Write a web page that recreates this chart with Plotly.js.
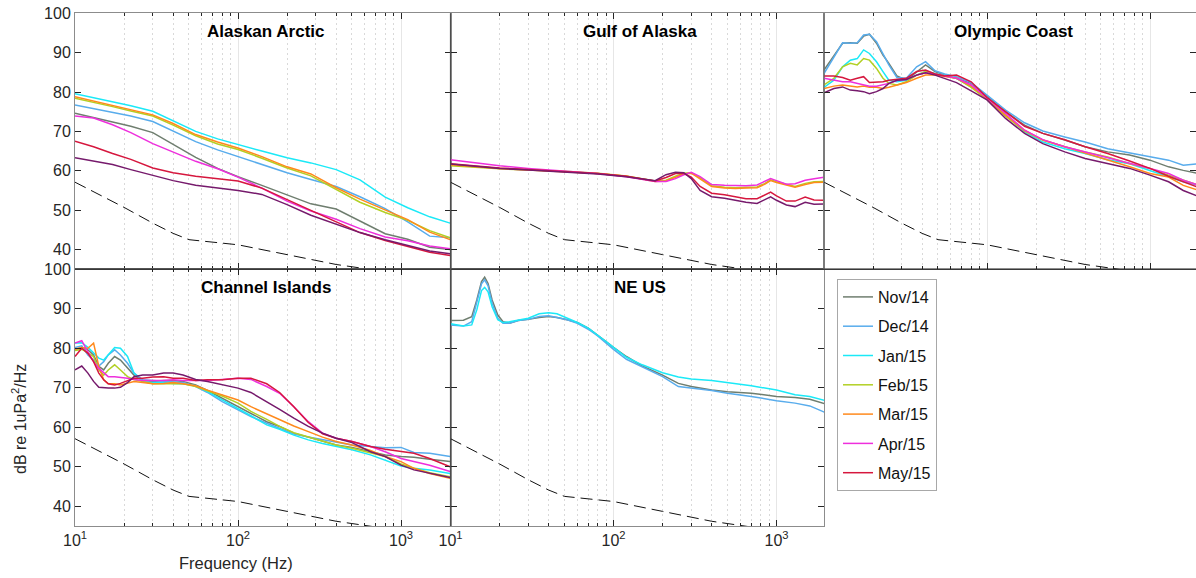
<!DOCTYPE html>
<html>
<head>
<meta charset="utf-8">
<script src="https://cdn.plot.ly/plotly-3.0.1.min.js"></script>
<style>
  html, body { margin: 0; padding: 0; background: #ffffff; }
  #chart { width: 1196px; height: 578px; }
</style>
</head>
<body>
<div id="chart"></div>
<script>
// ---------------------------------------------------------------------------
// Monthly median ambient-noise spectra (dB re 1 uPa^2/Hz) at five sites
// ---------------------------------------------------------------------------
const months = ['Nov/14', 'Dec/14', 'Jan/15', 'Feb/15', 'Mar/15', 'Apr/15', 'May/15', 'Jun/15'];
const inLegend = ['Nov/14', 'Dec/14', 'Jan/15', 'Feb/15', 'Mar/15', 'Apr/15', 'May/15'];

// Alaskan Arctic
const freqArctic = [10, 13, 17, 22, 30, 40, 55, 75, 100, 140, 200, 280, 400, 560, 800, 1100, 1500, 2000];
const arcticNov = [74.6, 73.5, 72.5, 71.3, 69.7, 66.8, 63.4, 60.6, 58.5, 56.3, 53.9, 51.6, 50.3, 47.2, 44.0, 42.6, 40.6, 40.0];
const arcticDec = [76.7, 75.8, 74.8, 73.9, 72.5, 70.0, 67.4, 65.3, 63.6, 61.6, 59.5, 57.8, 56.0, 53.4, 50.4, 47.0, 43.4, 43.0];
const arcticJan = [79.6, 78.6, 77.5, 76.5, 75.1, 72.7, 70.0, 68.1, 66.6, 65.0, 63.3, 62.0, 60.3, 57.7, 53.3, 50.6, 48.3, 46.7];
const arcticFeb = [78.4, 77.4, 76.3, 75.2, 73.9, 71.6, 68.9, 66.8, 65.4, 63.2, 60.7, 58.7, 55.3, 52.0, 49.4, 47.4, 44.8, 43.0];
const arcticMar = [78.8, 77.7, 76.6, 75.5, 74.2, 72.0, 69.2, 67.3, 65.8, 63.6, 61.0, 59.2, 55.7, 52.8, 50.1, 47.6, 44.4, 42.5];
const arcticApr = [73.9, 73.4, 71.7, 69.7, 66.9, 64.8, 62.4, 60.5, 58.4, 55.6, 52.3, 49.8, 47.7, 45.3, 43.2, 42.2, 40.9, 40.2];
const arcticMay = [67.5, 66.1, 64.4, 62.9, 60.7, 59.5, 58.6, 58.0, 57.4, 55.6, 52.7, 50.0, 47.2, 44.3, 42.3, 40.8, 39.3, 38.5];
const arcticJun = [63.3, 62.5, 61.6, 60.3, 58.9, 57.5, 56.3, 55.7, 55.0, 54.0, 51.4, 48.7, 46.4, 44.3, 42.5, 41.0, 39.6, 38.9];

// Gulf of Alaska
const freqGulf = [10, 15, 20, 30, 50, 80, 120, 180, 210, 240, 270, 300, 340, 400, 480, 560, 650, 760, 850, 920, 1000, 1150, 1300, 1500, 1700, 2000];
const gulfFeb = [61.3, 60.8, 60.5, 60.2, 59.9, 59.4, 58.7, 57.4, 57.6, 58.6, 59.4, 59.5, 58.2, 56.2, 55.8, 55.7, 55.8, 55.9, 56.8, 57.7, 57.2, 56.5, 56.0, 56.8, 57.2, 57.3];
const gulfMar = [61.5, 60.9, 60.6, 60.2, 59.8, 59.3, 58.6, 57.3, 57.4, 58.3, 59.2, 59.4, 58.0, 56.0, 55.6, 55.5, 55.6, 55.7, 56.6, 57.5, 57.0, 56.3, 55.8, 56.5, 57.0, 57.1];
const gulfApr = [62.8, 61.9, 61.3, 60.6, 59.9, 59.3, 58.5, 57.3, 57.3, 58.0, 59.0, 59.6, 58.5, 56.5, 56.3, 56.2, 56.2, 56.4, 57.4, 58.0, 57.5, 56.6, 56.7, 57.6, 58.0, 58.4];
const gulfMay = [61.8, 61.1, 60.7, 60.3, 59.8, 59.3, 58.6, 57.4, 58.3, 59.3, 59.3, 58.4, 56.0, 54.3, 53.9, 53.3, 52.9, 52.9, 53.9, 54.6, 53.6, 52.3, 52.3, 53.3, 52.6, 52.5];
const gulfJun = [61.7, 61.0, 60.6, 60.2, 59.7, 59.2, 58.5, 57.5, 59.0, 59.6, 59.5, 58.0, 55.0, 53.4, 53.0, 52.4, 52.0, 51.7, 52.7, 53.4, 52.5, 51.3, 50.9, 52.0, 51.5, 51.6];

// Olympic Coast
const freqOlympic = [10, 11.5, 13, 14.5, 16, 17.5, 19, 21, 23, 25, 28, 32, 37, 42, 48, 55, 65, 80, 100, 130, 170, 220, 300, 400, 550, 750, 1000, 1300, 1600, 2000];
const olympicNov = [85.6, 89.4, 92.4, 92.5, 92.4, 94.2, 94.7, 92.4, 89.4, 87.3, 84.1, 83.0, 85.2, 86.9, 85.2, 84.3, 83.5, 82.2, 79.0, 75.0, 71.6, 69.5, 67.8, 66.1, 64.8, 64.0, 62.7, 61.0, 60.1, 59.3];
const olympicDec = [84.7, 89.0, 92.5, 92.4, 92.5, 94.5, 94.7, 92.8, 89.8, 86.9, 83.7, 83.5, 86.4, 87.7, 85.4, 84.6, 83.9, 82.4, 79.2, 75.4, 72.2, 70.1, 68.6, 67.3, 65.6, 64.5, 63.5, 62.7, 61.4, 61.8];
const olympicJan = [81.2, 83.0, 86.4, 88.1, 88.5, 90.7, 89.8, 87.7, 85.2, 83.0, 82.6, 83.0, 84.3, 85.2, 84.7, 84.1, 83.5, 81.3, 78.4, 74.1, 69.9, 67.3, 65.6, 64.4, 62.8, 61.8, 60.1, 58.4, 57.2, 56.3];
const olympicFeb = [81.8, 83.5, 86.4, 87.3, 86.9, 88.5, 88.1, 86.0, 83.5, 82.2, 81.8, 82.6, 84.3, 85.2, 84.6, 84.1, 83.5, 81.2, 78.1, 73.9, 70.1, 67.8, 66.1, 64.8, 63.5, 61.8, 60.6, 58.9, 57.6, 56.3];
const olympicMar = [80.9, 81.5, 81.8, 81.5, 81.3, 81.5, 81.2, 81.2, 80.9, 81.2, 81.8, 82.4, 83.5, 84.3, 84.3, 83.9, 83.5, 81.5, 78.4, 74.1, 70.3, 67.8, 66.1, 64.5, 62.8, 61.0, 59.3, 58.4, 56.3, 55.0];
const olympicApr = [83.5, 83.0, 82.6, 82.6, 82.2, 81.8, 81.5, 81.5, 81.8, 82.2, 82.9, 83.2, 84.3, 84.9, 84.6, 84.1, 83.5, 81.8, 78.6, 74.6, 70.3, 67.9, 66.1, 64.8, 63.4, 62.0, 60.6, 59.3, 57.6, 56.3];
const olympicMay = [84.1, 84.1, 83.7, 83.0, 83.5, 83.9, 82.4, 82.6, 82.6, 83.0, 83.2, 83.5, 85.2, 85.6, 84.6, 84.1, 84.3, 82.6, 78.6, 75.0, 71.3, 69.5, 67.9, 66.1, 64.4, 62.5, 60.6, 58.6, 57.2, 55.7];
const olympicJun = [79.8, 80.9, 81.3, 80.5, 80.3, 80.1, 79.6, 80.1, 80.9, 82.2, 83.0, 83.2, 84.3, 84.9, 84.3, 83.5, 82.4, 80.3, 78.0, 73.3, 69.5, 66.9, 64.8, 63.1, 61.8, 60.6, 58.9, 57.2, 55.0, 53.4];

// Channel Islands
const freqChannel = [10, 11, 12, 13, 14, 15, 16, 17.5, 19, 21, 23, 26, 30, 35, 40, 46, 55, 65, 80, 100, 120, 150, 180, 220, 270, 330, 400, 500, 650, 800, 1000, 1200, 1500, 2000];
const channelNov = [79.7, 80.2, 79.6, 78.3, 75.4, 74.5, 76.2, 77.9, 77.0, 74.9, 73.2, 71.8, 71.6, 71.8, 71.8, 71.6, 70.7, 69.3, 67.3, 65.2, 63.5, 61.4, 60.2, 58.5, 57.5, 56.4, 55.5, 54.9, 53.8, 53.0, 52.6, 52.4, 51.9, 51.3];
const channelDec = [80.2, 80.6, 78.3, 77.0, 75.5, 76.6, 78.3, 79.6, 78.3, 76.2, 73.7, 72.0, 71.8, 71.6, 71.6, 71.3, 70.3, 68.8, 66.5, 64.4, 62.7, 61.0, 59.7, 58.3, 57.5, 56.8, 56.1, 55.5, 55.1, 54.8, 54.9, 53.6, 53.4, 52.6];
const channelJan = [81.3, 81.4, 80.2, 78.7, 77.5, 77.0, 78.3, 80.2, 80.0, 77.9, 73.7, 71.6, 71.3, 71.3, 71.1, 71.0, 70.5, 69.0, 66.9, 64.8, 62.9, 60.6, 59.5, 58.0, 56.8, 55.9, 55.1, 54.3, 53.0, 51.7, 50.2, 49.6, 49.2, 48.3];
const channelFeb = [79.4, 79.7, 78.9, 77.9, 74.5, 73.2, 74.5, 75.8, 74.5, 72.8, 72.1, 71.6, 71.0, 71.0, 71.0, 71.0, 70.3, 69.3, 67.9, 66.1, 64.0, 62.0, 60.2, 58.6, 57.6, 56.6, 55.5, 54.7, 53.6, 52.6, 50.7, 49.6, 48.5, 47.5];
const channelMar = [79.7, 80.2, 80.0, 81.3, 75.4, 72.0, 71.0, 71.0, 70.7, 71.1, 71.6, 71.3, 71.0, 71.1, 71.3, 71.0, 70.5, 69.4, 68.2, 66.9, 65.2, 63.4, 62.0, 60.3, 58.9, 57.5, 56.4, 55.5, 54.1, 52.6, 51.3, 49.6, 48.3, 47.1];
const channelApr = [81.3, 81.9, 79.1, 76.6, 74.9, 73.7, 72.8, 72.8, 72.7, 72.4, 72.1, 71.8, 71.8, 71.8, 72.0, 71.8, 71.8, 71.8, 72.1, 72.4, 72.1, 70.3, 68.6, 65.2, 61.4, 58.5, 57.2, 56.4, 55.1, 53.8, 52.1, 51.3, 50.4, 48.8];
const channelMay = [77.9, 80.0, 78.7, 76.6, 73.7, 72.0, 71.0, 70.7, 71.1, 71.8, 72.4, 72.4, 72.7, 72.8, 72.4, 72.4, 71.8, 72.0, 72.0, 72.4, 72.4, 71.0, 68.8, 65.2, 61.2, 58.3, 57.2, 56.4, 55.1, 54.4, 53.8, 53.4, 52.1, 50.0];
const channelJun = [74.5, 75.5, 73.7, 71.6, 70.1, 69.9, 69.9, 69.9, 70.1, 71.3, 72.8, 73.2, 73.2, 73.7, 73.7, 73.2, 72.1, 71.6, 70.7, 69.9, 68.8, 66.5, 64.5, 62.3, 60.2, 58.5, 57.2, 56.1, 53.8, 52.6, 50.4, 49.2, 48.3, 47.3];

// NE US
const freqNeus = [10, 12, 13.5, 14.5, 15.5, 16.2, 17, 18, 19.5, 21, 23, 26, 30, 35, 40, 45, 52, 60, 70, 80, 90, 100, 120, 150, 200, 250, 300, 400, 500, 700, 1000, 1300, 1600, 2000];
const neusNov = [87.0, 87.1, 88.0, 92.2, 96.9, 98.0, 96.4, 92.2, 88.4, 86.7, 86.3, 87.0, 87.3, 87.8, 88.0, 87.8, 87.2, 86.5, 85.1, 83.4, 81.7, 80.2, 77.9, 75.5, 73.2, 71.1, 70.3, 69.4, 69.0, 68.6, 67.8, 67.5, 67.1, 65.9];
const neusDec = [85.9, 85.6, 86.7, 91.4, 96.3, 97.3, 95.8, 91.4, 87.6, 86.3, 86.3, 87.0, 87.3, 88.0, 88.2, 87.8, 87.2, 86.3, 84.8, 83.1, 81.3, 79.7, 77.2, 75.2, 72.8, 70.3, 69.9, 69.3, 68.6, 67.8, 66.7, 66.1, 65.4, 63.7];
const neusJan = [86.2, 85.6, 85.9, 89.7, 94.6, 95.4, 94.3, 90.5, 87.2, 86.5, 86.7, 87.2, 87.6, 88.7, 89.0, 88.7, 87.6, 86.5, 85.1, 83.4, 81.7, 80.2, 77.7, 75.8, 73.8, 72.7, 72.2, 71.8, 71.3, 70.5, 69.4, 68.2, 67.8, 66.7];

// Reference low-noise curve drawn dashed in every panel
const floorFreq = [10, 20, 30, 40, 50, 100, 200, 400, 800, 2000];
const floorLevel = [57.1, 50.7, 46.7, 44.1, 42.5, 41.2, 38.7, 36.2, 34.4, 31.5];

// Axis ticks
const yTicks = [40, 50, 60, 70, 80, 90, 100];
const xTicks = [10, 100, 1000];
const xTickText = ['10<sup>1</sup>', '10<sup>2</sup>', '10<sup>3</sup>'];
const xMinor = [20, 30, 40, 50, 60, 70, 80, 90, 200, 300, 400, 500, 600, 700, 800, 900, 2000];

// ---------------------------------------------------------------------------
// Site table assembled from the arrays above
// ---------------------------------------------------------------------------
const sites = [
  { title: 'Alaskan Arctic', freq: freqArctic,
    levels: [arcticNov, arcticDec, arcticJan, arcticFeb, arcticMar, arcticApr, arcticMay, arcticJun] },
  { title: 'Gulf of Alaska', freq: freqGulf,
    levels: [null, null, null, gulfFeb, gulfMar, gulfApr, gulfMay, gulfJun] },
  { title: 'Olympic Coast', freq: freqOlympic,
    levels: [olympicNov, olympicDec, olympicJan, olympicFeb, olympicMar, olympicApr, olympicMay, olympicJun] },
  { title: 'Channel Islands', freq: freqChannel,
    levels: [channelNov, channelDec, channelJan, channelFeb, channelMar, channelApr, channelMay, channelJun] },
  { title: 'NE US', freq: freqNeus,
    levels: [neusNov, neusDec, neusJan, null, null, null, null, null] }
];

// ---------------------------------------------------------------------------
// Styling
// ---------------------------------------------------------------------------
const W = 1196, H = 578;
const FONT = '"Liberation Sans", Arial, Helvetica, sans-serif';
const INK = '#262626';
const monthColor = {
  'Nov/14': '#6f7e6f',
  'Dec/14': '#58acec',
  'Jan/15': '#1be9f7',
  'Feb/15': '#b2d024',
  'Mar/15': '#ff8a1c',
  'Apr/15': '#ee2fdc',
  'May/15': '#d6173e',
  'Jun/15': '#761a6c'
};

// Panel rectangles in pixels (left, right, top, bottom)
const PX_PER_DECADE = 163;
const panels = [
  { l: 75,    r: 450.5, t: 13.3,  b: 269.2 },
  { l: 450.5, r: 824,   t: 13.3,  b: 269.2 },
  { l: 824,   r: 1196,  t: 13.3,  b: 269.2 },
  { l: 75,    r: 450.5, t: 269.2, b: 526 },
  { l: 450.5, r: 824,   t: 269.2, b: 526 }
];
const px = x => x / W;
const py = y => 1 - y / H;

const layout = {
  width: W, height: H,
  margin: { l: 0, r: 0, t: 0, b: 0 },
  paper_bgcolor: '#ffffff',
  plot_bgcolor: '#ffffff',
  font: { family: FONT, size: 16, color: INK },
  showlegend: true,
  legend: {
    x: px(837), y: py(279), xanchor: 'left', yanchor: 'top',
    bgcolor: '#ffffff', bordercolor: '#a8a8a8', borderwidth: 1,
    font: { family: FONT, size: 16, color: '#111111' },
    traceorder: 'grouped', tracegroupgap: 5.5, itemwidth: 30
  },
  annotations: [],
  shapes: []
};

panels.forEach((p, i) => {
  const n = i + 1;
  const xid = n === 1 ? 'x' : 'x' + n;
  const yid = n === 1 ? 'y' : 'y' + n;
  const bottomRow = i >= 3;
  const leftCol = (i === 0 || i === 3);
  const xEnd = 1 + (p.r - p.l) / PX_PER_DECADE;

  layout[n === 1 ? 'xaxis' : 'xaxis' + n] = {
    domain: [px(p.l), px(p.r)], anchor: yid,
    type: 'log', range: [1, xEnd], fixedrange: true,
    tickmode: 'array', tickvals: xTicks, ticktext: xTickText,
    showticklabels: bottomRow,
    tickfont: { family: FONT, size: 16, color: INK },
    ticks: 'inside', ticklen: 6, tickwidth: 1, tickcolor: INK,
    showline: true, linecolor: '#8c8c8c', linewidth: 1, mirror: 'ticks',
    showgrid: true, gridcolor: '#e6e6e6', gridwidth: 1,
    zeroline: false,
    minor: {
      tickmode: 'array', tickvals: xMinor,
      ticks: 'inside', ticklen: 3, tickwidth: 1, tickcolor: INK,
      showgrid: true, gridcolor: '#d9d9d9', gridwidth: 1, griddash: '2px,3px'
    }
  };
  layout[n === 1 ? 'yaxis' : 'yaxis' + n] = {
    domain: [py(p.b), py(p.t)], anchor: xid,
    range: [35, 100], fixedrange: true,
    tickmode: 'array', tickvals: yTicks,
    showticklabels: leftCol,
    tickfont: { family: FONT, size: 16, color: INK },
    ticks: 'inside', ticklen: 6, tickwidth: 1, tickcolor: INK,
    showline: true, linecolor: '#8c8c8c', linewidth: 1, mirror: 'ticks',
    showgrid: false, zeroline: false
  };

  // Site name inside the top of each panel
  layout.annotations.push({
    text: '<b>' + sites[i].title + '</b>',
    xref: 'paper', yref: 'paper',
    x: px((p.l + Math.min(p.r, 1199)) / 2 + 3), y: py(p.t + 18.3),
    xanchor: 'center', yanchor: 'middle', showarrow: false,
    font: { family: FONT, size: 17, color: '#000000' }
  });
});

// Darker frame lines where panels meet
layout.shapes.push(
  { type: 'line', xref: 'paper', yref: 'paper', layer: 'above',
    x0: px(75), x1: 1, y0: py(269.2), y1: py(269.2),
    line: { color: '#1c1c1c', width: 1.2 } },
  { type: 'line', xref: 'paper', yref: 'paper', layer: 'above',
    x0: px(450.5), x1: px(450.5), y0: py(13.3), y1: py(526),
    line: { color: '#4d4d4d', width: 1.2 } },
  { type: 'line', xref: 'paper', yref: 'paper', layer: 'above',
    x0: px(824), x1: px(824), y0: py(13.3), y1: py(269.2),
    line: { color: '#6a6a6a', width: 1 } }
);

// Shared axis titles
layout.annotations.push(
  { text: 'dB re 1uPa<sup>2</sup>/Hz', xref: 'paper', yref: 'paper',
    x: px(19), y: py(419), textangle: -90, xanchor: 'center', yanchor: 'middle',
    showarrow: false, font: { family: FONT, size: 16, color: INK } },
  { text: 'Frequency (Hz)', xref: 'paper', yref: 'paper',
    x: px(236), y: py(563), xanchor: 'center', yanchor: 'middle',
    showarrow: false, font: { family: FONT, size: 16.5, color: INK } }
);

// ---------------------------------------------------------------------------
// Traces
// ---------------------------------------------------------------------------
const traces = [];
const legendShown = new Set();
sites.forEach((site, i) => {
  const n = i + 1;
  const xa = n === 1 ? 'x' : 'x' + n;
  const ya = n === 1 ? 'y' : 'y' + n;
  months.forEach((m, k) => {
    const lv = site.levels[k];
    if (!lv) return;
    const show = inLegend.includes(m) && !legendShown.has(m);
    if (show) legendShown.add(m);
    traces.push({
      type: 'scatter', mode: 'lines',
      x: site.freq, y: lv, xaxis: xa, yaxis: ya,
      name: m, legendgroup: m, showlegend: show,
      line: { color: monthColor[m], width: 1.5 },
      hoverinfo: 'skip'
    });
  });
  traces.push({
    type: 'scatter', mode: 'lines',
    x: floorFreq, y: floorLevel, xaxis: xa, yaxis: ya,
    name: 'reference', showlegend: false,
    line: { color: '#111111', width: 1, dash: '12px,6px' },
    hoverinfo: 'skip'
  });
});

Plotly.newPlot('chart', traces, layout, { staticPlot: true, displayModeBar: false });
</script>
</body>
</html>
